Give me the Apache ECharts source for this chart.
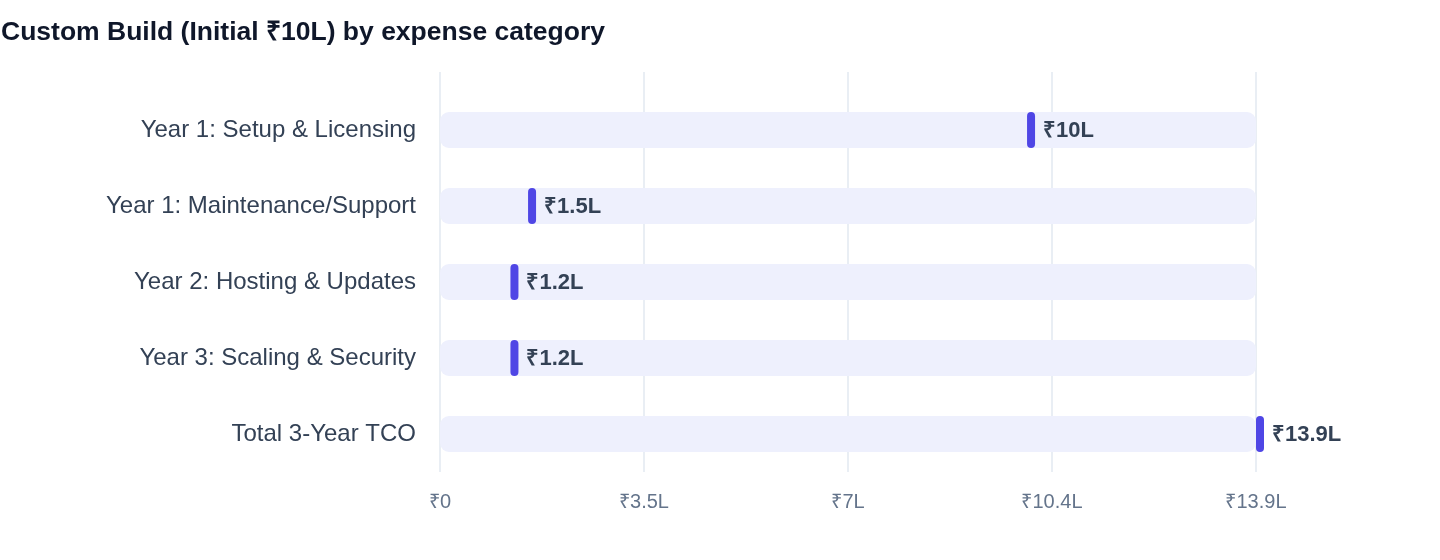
<!DOCTYPE html>
<html>
<head>
<meta charset="utf-8">
<script src="https://cdn.jsdelivr.net/npm/echarts@6/dist/echarts.min.js"></script>
<style>
html,body{margin:0;padding:0;background:#fff;}
#chart{width:1440px;height:560px;}
</style>
</head>
<body>
<div id="chart"></div>
<script>
const titleText = 'Custom Build (Initial ₹10L) by expense category';
const categories = [
  'Year 1: Setup & Licensing',
  'Year 1: Maintenance/Support',
  'Year 2: Hosting & Updates',
  'Year 3: Scaling & Security',
  'Total 3-Year TCO'
];
const values = [10, 1.5, 1.2, 1.2, 13.9];
const valueLabels = ['₹10L', '₹1.5L', '₹1.2L', '₹1.2L', '₹13.9L'];
const xTickLabels = ['₹0', '₹3.5L', '₹7L', '₹10.4L', '₹13.9L'];

const axisMax = 13.9;
const tickCount = xTickLabels.length - 1;
const tickInterval = axisMax / tickCount;
const FONT = "'Liberation Sans', Arial, Helvetica, sans-serif";

const chart = echarts.init(document.getElementById('chart'));
chart.setOption({
  animation: false,
  textStyle: { fontFamily: FONT },
  title: {
    text: titleText,
    left: 1, top: 19, padding: 0,
    textStyle: { fontSize: 26.5, fontWeight: 'bold', color: '#0f172a', fontFamily: FONT }
  },
  grid: [
    { left: 440, right: 184, top: 72, bottom: 88 },
    { left: 440, right: 184, top: 92, bottom: 88 }
  ],
  xAxis: [
    {
      gridIndex: 0, type: 'value', min: 0, max: axisMax, interval: tickInterval,
      axisLine: { show: false }, axisTick: { show: false },
      splitLine: { show: true, lineStyle: { color: '#e2e8f0', width: 1.5 } },
      axisLabel: {
        margin: 20, fontSize: 20, color: '#64748b', fontFamily: FONT,
        formatter: function (v) { return xTickLabels[Math.round(v / tickInterval)] || ''; }
      }
    },
    {
      gridIndex: 1, type: 'value', min: 0, max: axisMax, interval: tickInterval,
      show: false, splitLine: { show: false }
    }
  ],
  yAxis: [
    { gridIndex: 0, type: 'value', show: false, splitLine: { show: false } },
    {
      gridIndex: 1, type: 'category', data: categories, inverse: true,
      axisLine: { show: false }, axisTick: { show: false },
      axisLabel: { margin: 24, fontSize: 24, color: '#334155', fontFamily: FONT, padding: [4, 0, 0, 0] }
    }
  ],
  series: [
    {
      type: 'bar', xAxisIndex: 1, yAxisIndex: 1, z: 1,
      data: categories.map(() => axisMax),
      barWidth: 36,
      itemStyle: { color: '#eef0fd', borderRadius: 9 },
      silent: true
    },
    {
      type: 'custom', xAxisIndex: 1, yAxisIndex: 1, z: 5,
      data: values.map((v, i) => [v, i]),
      renderItem: function (params, api) {
        const p = api.coord([api.value(0), api.value(1)]);
        const idx = params.dataIndex;
        return {
          type: 'group',
          children: [
            {
              type: 'rect',
              shape: { x: p[0], y: p[1] - 18, width: 8, height: 36, r: 4 },
              style: { fill: '#4f46e5' }
            },
            {
              type: 'text',
              style: {
                x: p[0] + 16, y: p[1] + 1,
                text: valueLabels[idx],
                fill: '#334155',
                font: 'bold 22px ' + FONT,
                verticalAlign: 'middle', align: 'left'
              }
            }
          ]
        };
      }
    }
  ]
});
</script>
</body>
</html>
